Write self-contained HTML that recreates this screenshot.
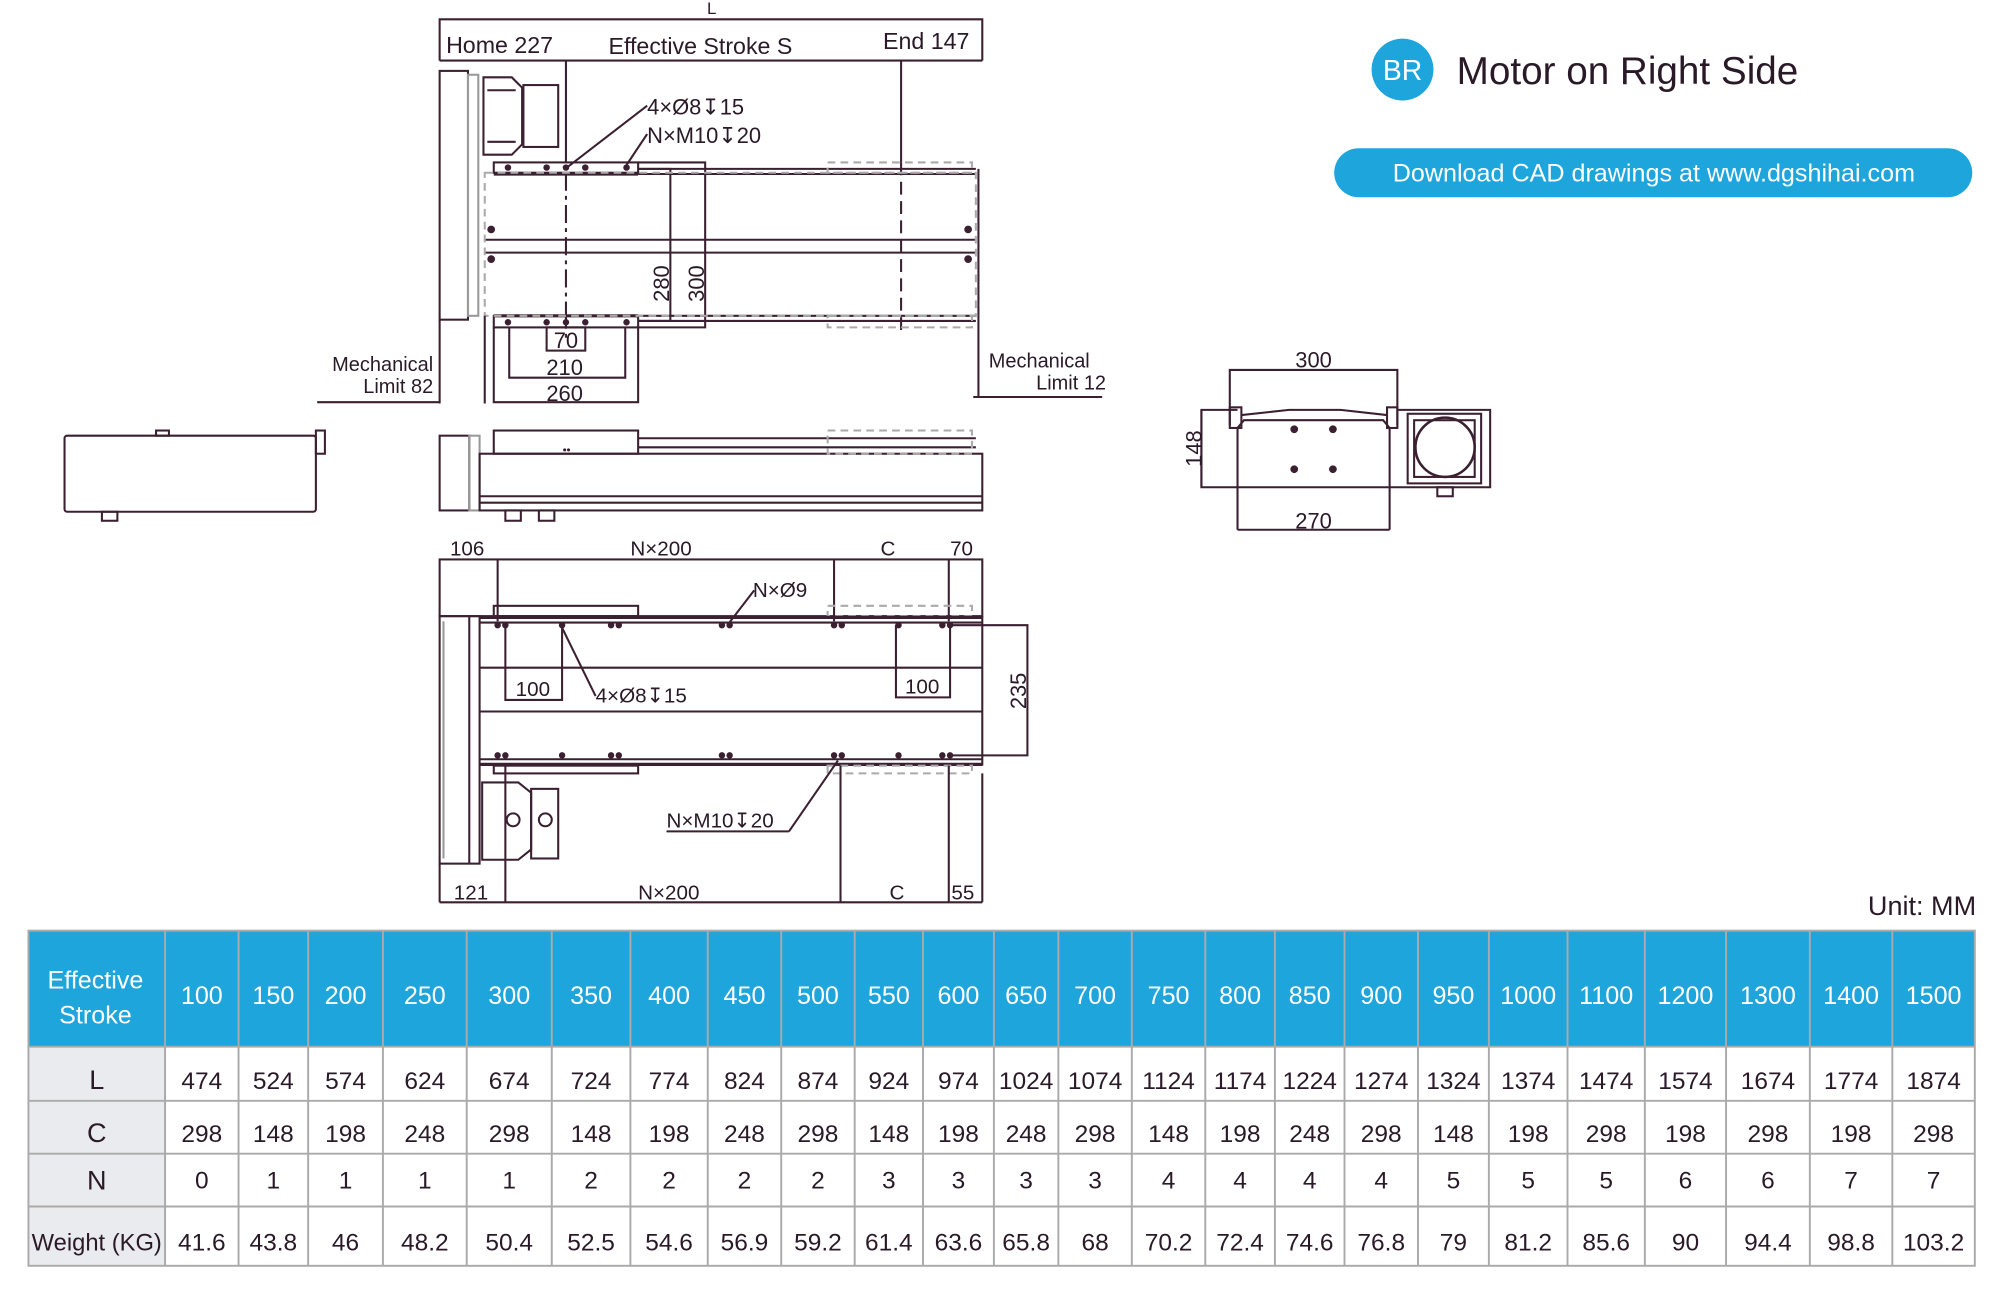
<!DOCTYPE html>
<html><head><meta charset="utf-8">
<style>
html,body{margin:0;padding:0;background:#fff;}
svg{display:block;}
text{font-family:"Liberation Sans",sans-serif;}
</style></head>
<body>
<svg width="2011" height="1289" viewBox="0 0 1560 1000" xmlns="http://www.w3.org/2000/svg">
<rect width="1560" height="1000" fill="#fff"/>
<!-- Header -->
<circle cx="1088" cy="54" r="24" fill="#1ea5dc"/>
<text x="1088" y="62" font-size="22" fill="#fff" text-anchor="middle">BR</text>
<text x="1130" y="65" font-size="30" fill="#2a1a28">Motor on Right Side</text>
<rect x="1035" y="115" width="495" height="38" rx="19" fill="#1ea5dc"/>
<text x="1283" y="141" font-size="19.5" fill="#fff" text-anchor="middle">Download CAD drawings at www.dgshihai.com</text>

<g stroke="#3a2030" stroke-width="1.6" fill="none">
<!-- TOP VIEW -->
<polyline points="341,47 341,15 762,15 762,47"/>
<line x1="341" y1="47" x2="762" y2="47"/>
<line x1="439" y1="47" x2="439" y2="126"/>
<line x1="439" y1="134" x2="439" y2="262" stroke-dasharray="14,4,3,4"/>
<line x1="699" y1="47" x2="699" y2="126"/>
<line x1="699" y1="126" x2="699" y2="258" stroke-dasharray="10,5"/>
<rect x="341" y="55" width="22" height="193"/>
<rect x="363" y="58" width="8" height="187" stroke="#999"/>
<path d="M375,60 h22 l8,8 v44 l-8,8 h-22 z"/>
<rect x="406" y="66" width="27" height="48"/>
<line x1="378" y1="70" x2="400" y2="70"/><line x1="378" y1="110" x2="400" y2="110"/>
<rect x="383" y="126" width="112" height="8"/>
<rect x="383" y="245" width="112" height="9"/>
<polyline points="495,126 547,126 547,254 495,254"/>
<polyline points="495,131 520,131 520,249 495,249"/>
<line x1="495" y1="131" x2="757" y2="131"/><line x1="495" y1="135" x2="757" y2="135"/>
<line x1="495" y1="245" x2="757" y2="245"/><line x1="495" y1="249" x2="757" y2="249"/>
<line x1="383" y1="135" x2="495" y2="135" stroke-width="2.5"/>
<line x1="383" y1="245" x2="495" y2="245" stroke-width="2.5"/>
<line x1="376" y1="186" x2="757" y2="186"/><line x1="376" y1="196" x2="757" y2="196"/>
<rect x="376" y="134" width="381" height="111" stroke="#aaa" stroke-dasharray="6,4"/>
<rect x="642" y="126" width="112" height="8" stroke="#aaa" stroke-dasharray="6,4"/>
<rect x="642" y="245" width="112" height="9" stroke="#aaa" stroke-dasharray="6,4"/>
<line x1="759" y1="131" x2="759" y2="308"/>
<line x1="755" y1="308" x2="855" y2="308"/>
<line x1="341" y1="248" x2="341" y2="313"/><line x1="376" y1="245" x2="376" y2="313"/>
<line x1="246" y1="312" x2="341" y2="312"/>
<rect x="424" y="254" width="30" height="18"/>
<polyline points="395,254 395,293 485,293 485,254"/>
<polyline points="383,254 383,312 495,312 495,254"/>
<line x1="502" y1="82" x2="441" y2="129"/>
<line x1="502" y1="104" x2="486" y2="128"/>

<!-- SIDE VIEW -->
<rect x="341" y="338" width="23" height="58"/>
<rect x="364" y="338" width="8" height="58" stroke="#999"/>
<rect x="383" y="334" width="112" height="18"/>
<line x1="495" y1="340" x2="757" y2="340"/><line x1="495" y1="347" x2="757" y2="347"/>
<rect x="372" y="352" width="390" height="44"/>
<line x1="372" y1="385" x2="762" y2="385"/><line x1="372" y1="390" x2="762" y2="390"/>
<rect x="642" y="334" width="112" height="18" stroke="#aaa" stroke-dasharray="6,4"/>
<rect x="392" y="396" width="12" height="8"/><rect x="418" y="396" width="12" height="8"/>

<!-- LEFT END VIEW -->
<rect x="50" y="338" width="195" height="59" rx="2"/>
<rect x="121" y="334" width="10" height="4"/>
<rect x="245" y="334" width="7" height="18"/>
<rect x="79" y="397" width="12" height="7"/>

<!-- BOTTOM VIEW -->
<rect x="341" y="434" width="421" height="44"/>
<line x1="386" y1="434" x2="386" y2="482"/>
<line x1="647" y1="434" x2="647" y2="482"/>
<line x1="736" y1="434" x2="736" y2="482"/>
<rect x="383" y="470" width="112" height="8"/>
<rect x="642" y="470" width="112" height="8" stroke="#aaa" stroke-dasharray="6,4"/>
<line x1="372" y1="479" x2="762" y2="479" stroke-width="2.5"/>
<line x1="372" y1="483" x2="762" y2="483"/>
<line x1="372" y1="518" x2="762" y2="518"/><line x1="372" y1="552" x2="762" y2="552"/>
<line x1="372" y1="589" x2="762" y2="589"/>
<line x1="372" y1="593" x2="762" y2="593" stroke-width="2.5"/>
<rect x="341" y="478" width="31" height="192"/>
<line x1="344" y1="482" x2="344" y2="666" stroke="#999"/>
<line x1="364" y1="478" x2="364" y2="670"/>
<line x1="762" y1="478" x2="762" y2="594"/>
<rect x="383" y="594" width="112" height="6"/>
<rect x="642" y="594" width="112" height="6" stroke="#aaa" stroke-dasharray="6,4"/>
<polyline points="392,485 392,543 436,543 436,485"/>
<polyline points="695,485 695,541 737,541 737,485"/>
<polyline points="737,485 797,485 797,586 737,586"/>
<line x1="585" y1="458" x2="565" y2="484"/>
<line x1="462" y1="540" x2="436" y2="487"/>
<path d="M374,607 h28 l10,8 v44 l-10,8 h-28 z"/>
<rect x="412" y="612" width="21" height="54"/>
<circle cx="398" cy="636" r="5"/><circle cx="423" cy="636" r="5"/>
<line x1="517" y1="645" x2="612" y2="645"/>
<line x1="612" y1="645" x2="650" y2="590"/>
<line x1="341" y1="670" x2="341" y2="700"/>
<line x1="341" y1="700" x2="762" y2="700"/>
<line x1="762" y1="600" x2="762" y2="700"/>
<line x1="392" y1="594" x2="392" y2="700"/>
<line x1="652" y1="594" x2="652" y2="700"/>
<line x1="736" y1="594" x2="736" y2="700"/>

<!-- RIGHT END VIEW -->
<polyline points="954,330 954,287 1084,287 1084,330"/>
<polyline points="960,318 932,318 932,378 1156,378 1156,318 1084,318"/>
<rect x="954" y="316" width="9" height="16"/>
<rect x="1076" y="316" width="8" height="16"/>
<path d="M963,322 L1000,318 L1040,318 L1076,322"/>
<path d="M960,332 L965,326 L1073,326 L1078,332 L1078,411"/>
<line x1="960" y1="332" x2="960" y2="411"/>
<line x1="960" y1="411" x2="1078" y2="411"/>
<rect x="1092" y="321" width="57" height="54"/>
<rect x="1097" y="326" width="47" height="44"/>
<circle cx="1121" cy="347" r="23" stroke-width="2"/>
<rect x="1115" y="378" width="12" height="7"/>
<line x1="932" y1="318" x2="932" y2="378"/>
</g>

<g fill="#3a2030">
<!-- top carriage dots -->
<circle cx="394" cy="130" r="2.5"/><circle cx="424" cy="130" r="2.5"/><circle cx="439" cy="130" r="2.5"/><circle cx="454" cy="130" r="2.5"/><circle cx="486" cy="130" r="2.5"/>
<circle cx="394" cy="250" r="2.5"/><circle cx="424" cy="250" r="2.5"/><circle cx="439" cy="250" r="2.5"/><circle cx="454" cy="250" r="2.5"/><circle cx="486" cy="250" r="2.5"/>
<circle cx="381" cy="178" r="3"/><circle cx="381" cy="201" r="3"/><circle cx="751" cy="178" r="3"/><circle cx="751" cy="201" r="3"/>
<!-- bottom view dots -->
<g>
<circle cx="386" cy="485" r="2.5"/><circle cx="392" cy="485" r="2.5"/><circle cx="436" cy="485" r="2.5"/><circle cx="474" cy="485" r="2.5"/><circle cx="480" cy="485" r="2.5"/><circle cx="560" cy="485" r="2.5"/><circle cx="566" cy="485" r="2.5"/><circle cx="647" cy="485" r="2.5"/><circle cx="653" cy="485" r="2.5"/><circle cx="697" cy="485" r="2.5"/><circle cx="731" cy="485" r="2.5"/><circle cx="737" cy="485" r="2.5"/>
<circle cx="386" cy="586" r="2.5"/><circle cx="392" cy="586" r="2.5"/><circle cx="436" cy="586" r="2.5"/><circle cx="474" cy="586" r="2.5"/><circle cx="480" cy="586" r="2.5"/><circle cx="560" cy="586" r="2.5"/><circle cx="566" cy="586" r="2.5"/><circle cx="647" cy="586" r="2.5"/><circle cx="653" cy="586" r="2.5"/><circle cx="697" cy="586" r="2.5"/><circle cx="731" cy="586" r="2.5"/><circle cx="737" cy="586" r="2.5"/>
</g>
<circle cx="1004" cy="333" r="3"/><circle cx="1034" cy="333" r="3"/><circle cx="1004" cy="364" r="3"/><circle cx="1034" cy="364" r="3"/>
<circle cx="438" cy="349" r="1.2"/><circle cx="441" cy="349" r="1.2"/>
</g>

<!-- Drawing labels -->
<g fill="#2a1a28" font-size="18">
<text x="552" y="11" font-family="Liberation Serif" font-size="13" text-anchor="middle">L</text>
<text x="346" y="41">Home 227</text>
<text x="472" y="42">Effective Stroke S</text>
<text x="685" y="38">End 147</text>
<text x="502" y="89" font-size="17">4×Ø8↧15</text>
<text x="502" y="111" font-size="17">N×M10↧20</text>
<text transform="translate(519,220) rotate(-90)" font-size="17" text-anchor="middle">280</text>
<text transform="translate(546,220) rotate(-90)" font-size="17" text-anchor="middle">300</text>
<text x="439" y="270" font-size="17" text-anchor="middle">70</text>
<text x="438" y="291" font-size="17" text-anchor="middle">210</text>
<text x="438" y="311" font-size="17" text-anchor="middle">260</text>
<text x="336" y="288" font-size="15.5" text-anchor="end">Mechanical</text>
<text x="336" y="305" font-size="15.5" text-anchor="end">Limit 82</text>
<text x="767" y="285" font-size="15.5">Mechanical</text>
<text x="858" y="302" font-size="15.5" text-anchor="end">Limit 12</text>
<text x="349" y="431" font-size="16">106</text>
<text x="489" y="431" font-size="16">N×200</text>
<text x="683" y="431" font-size="16">C</text>
<text x="737" y="431" font-size="16">70</text>
<text x="584" y="463" font-size="16">N×Ø9</text>
<text x="400" y="540" font-size="16">100</text>
<text x="702" y="538" font-size="16">100</text>
<text x="462" y="545" font-size="16">4×Ø8↧15</text>
<text transform="translate(796,536) rotate(-90)" font-size="17" text-anchor="middle">235</text>
<text x="517" y="642" font-size="16">N×M10↧20</text>
<text x="352" y="698" font-size="16">121</text>
<text x="495" y="698" font-size="16">N×200</text>
<text x="690" y="698" font-size="16">C</text>
<text x="738" y="698" font-size="16">55</text>
<text x="1019" y="285" font-size="17" text-anchor="middle">300</text>
<text transform="translate(932,348) rotate(-90)" font-size="17" text-anchor="middle">148</text>
<text x="1019" y="410" font-size="17" text-anchor="middle">270</text>
<text x="1533" y="710" font-size="21" text-anchor="end">Unit: MM</text>
</g>

<!-- TABLE -->
<rect x="22" y="722" width="1510" height="90" fill="#1ea5dc"/>
<rect x="22" y="812" width="106" height="170" fill="#e9ebef"/>
<g stroke="#aaa" stroke-width="1.5">
<rect x="22" y="722" width="1510" height="260" fill="none"/>
<line x1="22" y1="812" x2="1532" y2="812"/>
<line x1="22" y1="854" x2="1532" y2="854"/>
<line x1="22" y1="895" x2="1532" y2="895"/>
<line x1="22" y1="936" x2="1532" y2="936"/>
<line x1="128" y1="722" x2="128" y2="982"/><line x1="185" y1="722" x2="185" y2="982"/><line x1="239" y1="722" x2="239" y2="982"/><line x1="297" y1="722" x2="297" y2="982"/><line x1="362" y1="722" x2="362" y2="982"/><line x1="428" y1="722" x2="428" y2="982"/><line x1="489" y1="722" x2="489" y2="982"/><line x1="549" y1="722" x2="549" y2="982"/><line x1="606" y1="722" x2="606" y2="982"/><line x1="663" y1="722" x2="663" y2="982"/><line x1="716" y1="722" x2="716" y2="982"/><line x1="771" y1="722" x2="771" y2="982"/><line x1="821" y1="722" x2="821" y2="982"/><line x1="878" y1="722" x2="878" y2="982"/><line x1="935" y1="722" x2="935" y2="982"/><line x1="989" y1="722" x2="989" y2="982"/><line x1="1043" y1="722" x2="1043" y2="982"/><line x1="1100" y1="722" x2="1100" y2="982"/><line x1="1155" y1="722" x2="1155" y2="982"/><line x1="1216" y1="722" x2="1216" y2="982"/><line x1="1276" y1="722" x2="1276" y2="982"/><line x1="1339" y1="722" x2="1339" y2="982"/><line x1="1404" y1="722" x2="1404" y2="982"/><line x1="1468" y1="722" x2="1468" y2="982"/>
</g>
<g font-size="19.5" fill="#fff" text-anchor="middle">
<text x="74" y="767">Effective</text><text x="74" y="794">Stroke</text>
<text x="156.5" y="779">100</text><text x="212" y="779">150</text><text x="268" y="779">200</text><text x="329.5" y="779">250</text><text x="395" y="779">300</text><text x="458.5" y="779">350</text><text x="519" y="779">400</text><text x="577.5" y="779">450</text><text x="634.5" y="779">500</text><text x="689.5" y="779">550</text><text x="743.5" y="779">600</text><text x="796" y="779">650</text><text x="849.5" y="779">700</text><text x="906.5" y="779">750</text><text x="962" y="779">800</text><text x="1016" y="779">850</text><text x="1071.5" y="779">900</text><text x="1127.5" y="779">950</text><text x="1185.5" y="779">1000</text><text x="1246" y="779">1100</text><text x="1307.5" y="779">1200</text><text x="1371.5" y="779">1300</text><text x="1436" y="779">1400</text><text x="1500" y="779">1500</text>
</g>
<g font-size="19" fill="#2a1a28" text-anchor="middle">
<text x="75" y="845" font-size="21">L</text><text x="75" y="886" font-size="21">C</text><text x="75" y="923" font-size="21">N</text><text x="75" y="970" font-size="18.5" textLength="101" lengthAdjust="spacingAndGlyphs">Weight (KG)</text>
<text x="156.5" y="845">474</text><text x="212" y="845">524</text><text x="268" y="845">574</text><text x="329.5" y="845">624</text><text x="395" y="845">674</text><text x="458.5" y="845">724</text><text x="519" y="845">774</text><text x="577.5" y="845">824</text><text x="634.5" y="845">874</text><text x="689.5" y="845">924</text><text x="743.5" y="845">974</text><text x="796" y="845">1024</text><text x="849.5" y="845">1074</text><text x="906.5" y="845">1124</text><text x="962" y="845">1174</text><text x="1016" y="845">1224</text><text x="1071.5" y="845">1274</text><text x="1127.5" y="845">1324</text><text x="1185.5" y="845">1374</text><text x="1246" y="845">1474</text><text x="1307.5" y="845">1574</text><text x="1371.5" y="845">1674</text><text x="1436" y="845">1774</text><text x="1500" y="845">1874</text>
<text x="156.5" y="886">298</text><text x="212" y="886">148</text><text x="268" y="886">198</text><text x="329.5" y="886">248</text><text x="395" y="886">298</text><text x="458.5" y="886">148</text><text x="519" y="886">198</text><text x="577.5" y="886">248</text><text x="634.5" y="886">298</text><text x="689.5" y="886">148</text><text x="743.5" y="886">198</text><text x="796" y="886">248</text><text x="849.5" y="886">298</text><text x="906.5" y="886">148</text><text x="962" y="886">198</text><text x="1016" y="886">248</text><text x="1071.5" y="886">298</text><text x="1127.5" y="886">148</text><text x="1185.5" y="886">198</text><text x="1246" y="886">298</text><text x="1307.5" y="886">198</text><text x="1371.5" y="886">298</text><text x="1436" y="886">198</text><text x="1500" y="886">298</text>
<text x="156.5" y="922">0</text><text x="212" y="922">1</text><text x="268" y="922">1</text><text x="329.5" y="922">1</text><text x="395" y="922">1</text><text x="458.5" y="922">2</text><text x="519" y="922">2</text><text x="577.5" y="922">2</text><text x="634.5" y="922">2</text><text x="689.5" y="922">3</text><text x="743.5" y="922">3</text><text x="796" y="922">3</text><text x="849.5" y="922">3</text><text x="906.5" y="922">4</text><text x="962" y="922">4</text><text x="1016" y="922">4</text><text x="1071.5" y="922">4</text><text x="1127.5" y="922">5</text><text x="1185.5" y="922">5</text><text x="1246" y="922">5</text><text x="1307.5" y="922">6</text><text x="1371.5" y="922">6</text><text x="1436" y="922">7</text><text x="1500" y="922">7</text>
<text x="156.5" y="970">41.6</text><text x="212" y="970">43.8</text><text x="268" y="970">46</text><text x="329.5" y="970">48.2</text><text x="395" y="970">50.4</text><text x="458.5" y="970">52.5</text><text x="519" y="970">54.6</text><text x="577.5" y="970">56.9</text><text x="634.5" y="970">59.2</text><text x="689.5" y="970">61.4</text><text x="743.5" y="970">63.6</text><text x="796" y="970">65.8</text><text x="849.5" y="970">68</text><text x="906.5" y="970">70.2</text><text x="962" y="970">72.4</text><text x="1016" y="970">74.6</text><text x="1071.5" y="970">76.8</text><text x="1127.5" y="970">79</text><text x="1185.5" y="970">81.2</text><text x="1246" y="970">85.6</text><text x="1307.5" y="970">90</text><text x="1371.5" y="970">94.4</text><text x="1436" y="970">98.8</text><text x="1500" y="970">103.2</text>
</g>
</svg>
</body></html>
